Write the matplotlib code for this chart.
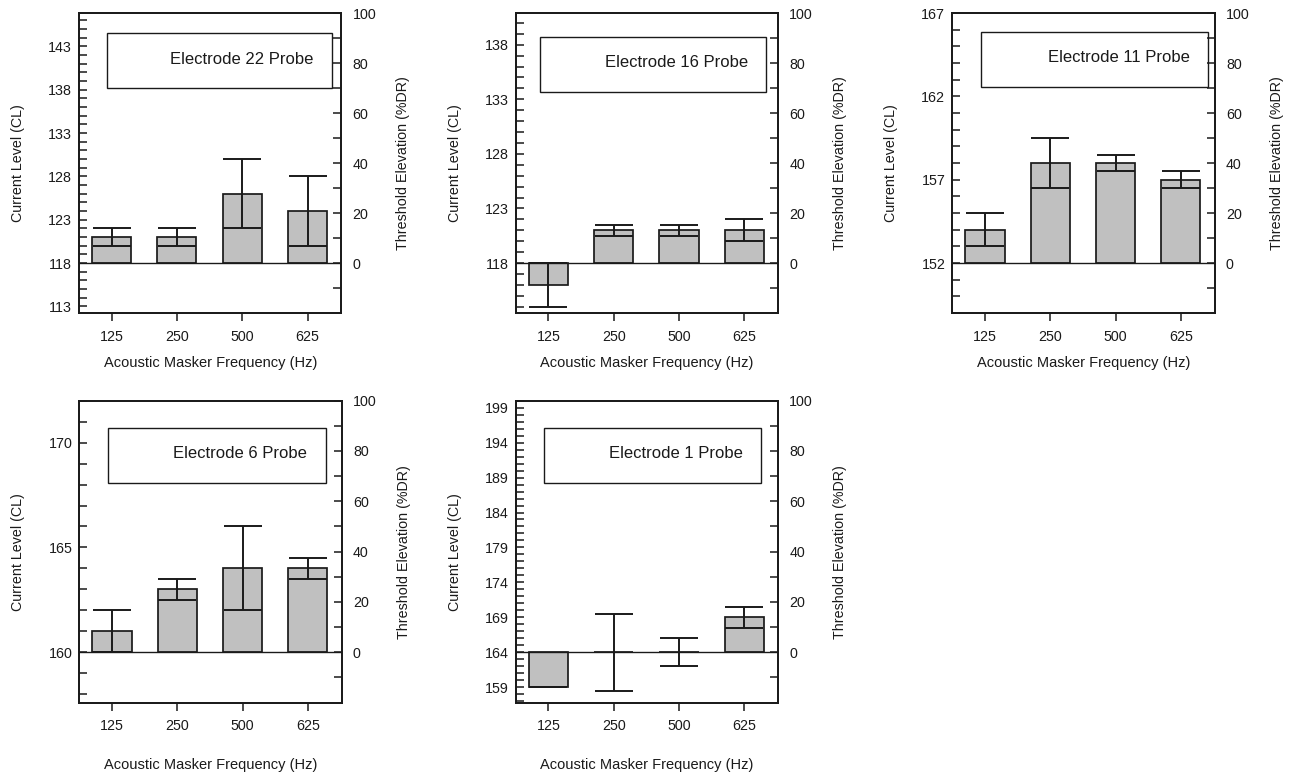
import numpy as np
import matplotlib
matplotlib.use("Agg")
import matplotlib.pyplot as plt
from matplotlib.patches import Rectangle
from matplotlib.ticker import MultipleLocator, FixedLocator

plt.rcParams['font.family'] = ['Liberation Sans', 'DejaVu Sans']

# data (current level in CL)
electrodes = [22, 16, 11, 6, 1]
baselines = [118, 118, 152, 160, 164]
dyn_ranges = [28.85, 22.9, 15, 12, 36]   # CL equivalent of 100 %DR
freqs = ['125', '250', '500', '625']
means = [
    [121, 121, 126, 124],
    [116, 121, 121, 121],
    [154, 158, 158, 157],
    [161, 163, 164, 164],
    [159, 164, 164, 169],
]
errs = [
    [1, 1, 4, 4],
    [2, 0.5, 0.5, 1],
    [1, 1.5, 0.5, 0.5],
    [1, 0.5, 2, 0.5],
    [0, 5.5, 2, 1.5],
]

fig = plt.figure(figsize=(12.9, 7.76), dpi=100)

# axes rectangles in figure fraction
lefts = [0.0612, 0.3998, 0.7382, 0.0615, 0.3998]
bottoms = [0.5966, 0.5966, 0.5966, 0.0945, 0.0945]
heights = [0.3866, 0.3866, 0.3866, 0.3892, 0.3892]
width = 0.2035

# text box geometry (axes fraction) per panel
box_x0 = [0.105, 0.093, 0.110, 0.111, 0.109]
box_x1 = [0.963, 0.952, 0.976, 0.940, 0.934]
box_y0 = [0.749, 0.738, 0.755, 0.728, 0.728]
box_y1 = [0.934, 0.921, 0.938, 0.911, 0.911]
txt_x = [0.894, 0.887, 0.906, 0.867, 0.867]
xlab_y = [-0.167, -0.167, -0.167, -0.205, -0.205]

x = np.arange(len(freqs))
ink = '#1a1a1a'

for i in range(5):
    ax = fig.add_axes([lefts[i], bottoms[i], width, heights[i]])
    base = baselines[i]
    dr = dyn_ranges[i]
    m = np.array(means[i], dtype=float)
    e = np.array(errs[i], dtype=float)

    ax.bar(x, m - base, bottom=base, width=0.6, color='#c0c0c0',
           edgecolor=ink, linewidth=1.25, zorder=2)
    ax.errorbar(x, m, yerr=e, fmt='none', ecolor=ink, elinewidth=1.4,
                capsize=13.5, capthick=1.4, zorder=3)
    ax.axhline(base, color=ink, lw=1.0, zorder=4)

    ax.set_xlim(-0.5, 3.52)
    ax.set_ylim(base - 0.2 * dr, base + dr)
    ax.set_xticks(x)
    ax.set_xticklabels(freqs)
    lo, hi = base - 0.2 * dr, base + dr
    majors = [v for v in range(base - 20, base + 60, 5) if lo <= v <= hi]
    ax.yaxis.set_major_locator(FixedLocator(majors))
    ax.yaxis.set_minor_locator(MultipleLocator(1))

    ax.tick_params(axis='y', which='both', direction='in', length=6,
                   width=1.1, pad=5, labelsize=10.3, colors=ink)
    ax.tick_params(axis='x', direction='out', length=6, width=1.1,
                   pad=6, labelsize=10.3, colors=ink)
    for s in ax.spines.values():
        s.set_linewidth(1.3)
        s.set_color(ink)

    ax.set_ylabel('Current Level (CL)', fontsize=10.3, va='center', color=ink)
    ax.yaxis.set_label_coords(-0.232, 0.5)
    ax.set_xlabel('Acoustic Masker Frequency (Hz)', fontsize=10.5,
                  va='center', color=ink)
    ax.xaxis.set_label_coords(0.5, xlab_y[i])

    ax2 = ax.twinx()
    ax2.set_ylim(-20, 100)
    ax2.set_yticks([0, 20, 40, 60, 80, 100])
    ax2.set_yticks([-10, 10, 30, 50, 70, 90], minor=True)
    ax2.tick_params(axis='y', which='both', direction='in', length=6,
                    width=1.1, pad=8, labelsize=10.3, colors=ink)
    for s in ax2.spines.values():
        s.set_linewidth(1.3)
        s.set_color(ink)
    ax2.set_ylabel('Threshold Elevation (%DR)', fontsize=10.3, va='center',
                   color=ink)
    ax2.yaxis.set_label_coords(1.236, 0.5)

    ax.add_patch(Rectangle((box_x0[i], box_y0[i]),
                           box_x1[i] - box_x0[i], box_y1[i] - box_y0[i],
                           transform=ax.transAxes, facecolor='white',
                           edgecolor=ink, lw=1.0, zorder=5))
    ax.text(txt_x[i], (box_y0[i] + box_y1[i]) / 2 + 0.005,
            'Electrode %d Probe' % electrodes[i], transform=ax.transAxes,
            ha='right', va='center', fontsize=12, color=ink, zorder=6)

fig.savefig('out.png', dpi=100)
